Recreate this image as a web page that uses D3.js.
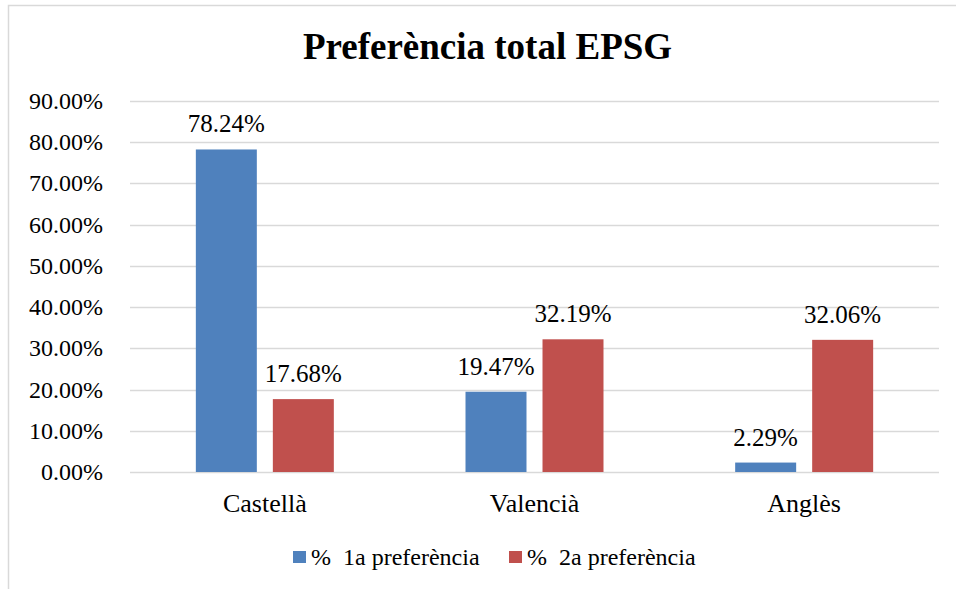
<!DOCTYPE html>
<html>
<head>
<meta charset="utf-8">
<script src="https://cdn.jsdelivr.net/npm/d3@7"></script>
<style>
  body { margin: 0; background: #fff; }
</style>
</head>
<body>
<div id="chart"></div>
<script>
// data
var categories = ['Castellà', 'Valencià', 'Anglès'];
var seriesNames = ['% 1a preferència', '% 2a preferència'];
var first = [78.24, 19.47, 2.29];
var second = [17.68, 32.19, 32.06];
var yTicks = [0, 10, 20, 30, 40, 50, 60, 70, 80, 90];
var colors = ['#4F81BD', '#C0504D'];

var width = 956,
  height = 589;
var font = 'Liberation Serif';

var svg = d3.select('#chart').append('svg')
    .attr('width', width)
    .attr('height', height);

// chart border (runs off the right and bottom of the picture)
svg.append('rect')
    .attr('x', 8.5).attr('y', 5.5)
    .attr('width', 1000).attr('height', 700)
    .attr('fill', 'none')
    .attr('stroke', '#d9d9d9')
    .attr('stroke-width', 1.5);

var plotLeft = 130, plotRight = 939, plotTop = 101, plotBottom = 472;

var y = d3.scaleLinear()
    .domain([0, 90])
    .range([plotBottom, plotTop]);

var x0 = d3.scaleBand()
    .domain(categories)
    .range([plotLeft, plotRight]);

var x1 = d3.scaleBand()
    .domain([0, 1])
    .range([0, x0.bandwidth()])
    .paddingInner(0.208)
    .paddingOuter(0.855);

// gridlines
svg.append('g')
  .selectAll('line')
  .data(yTicks)
  .enter().append('line')
  .attr('x1', plotLeft).attr('x2', plotRight)
  .attr('y1', function(d) { return Math.round(y(d)) + 0.5; })
  .attr('y2', function(d) { return Math.round(y(d)) + 0.5; })
  .attr('stroke', '#d9d9d9')
  .attr('stroke-width', 1.5);

// y labels
svg.append('g')
  .selectAll('text')
  .data(yTicks)
  .enter().append('text')
  .attr('x', 103)
  .attr('y', function(d) { return y(d) + 8; })
  .attr('text-anchor', 'end')
  .attr('font-family', font)
  .attr('font-size', 24)
  .text(function(d) { return d.toFixed(2) + '%'; });

var rows = categories.map(function(c, i) {
  return { cat: c, vals: [first[i], second[i]] };
});

var groups = svg.append('g')
  .selectAll('g')
  .data(rows)
  .enter().append('g')
  .attr('transform', function(d) { return 'translate(' + x0(d.cat) + ',0)'; });

groups.selectAll('rect')
  .data(function(d) { return d.vals; })
  .enter().append('rect')
  .attr('x', function(d, i) { return x1(i); })
  .attr('y', function(d) { return y(d); })
  .attr('width', x1.bandwidth())
  .attr('height', function(d) { return y(0) - y(d); })
  .attr('fill', function(d, i) { return colors[i]; });

groups.selectAll('text')
  .data(function(d) { return d.vals; })
  .enter().append('text')
  .attr('x', function(d, i) { return x1(i) + x1.bandwidth() / 2; })
  .attr('y', function(d) { return y(d) - 17; })
  .attr('text-anchor', 'middle')
  .attr('font-family', font)
  .attr('font-size', 25)
  .text(function(d) { return d.toFixed(2) + '%'; });

// category labels
svg.append('g')
  .selectAll('text')
  .data(categories)
  .enter().append('text')
  .attr('x', function(d) { return x0(d) + x0.bandwidth() / 2; })
  .attr('y', 512)
  .attr('text-anchor', 'middle')
  .attr('font-family', font)
  .attr('font-size', 26)
  .text(function(d) { return d; });

// title
svg.append('text')
  .attr('x', 487.5)
  .attr('y', 59)
  .attr('text-anchor', 'middle')
  .attr('font-family', font)
  .attr('font-size', 37)
  .attr('font-weight', 'bold')
  .text('Preferència total EPSG');

// legend
var legendX = [293, 509];
var legend = svg.append('g')
  .selectAll('g')
  .data(seriesNames)
  .enter().append('g')
  .attr('transform', function(d, i) { return 'translate(' + legendX[i] + ',551)'; });

legend.append('rect')
  .attr('width', 13).attr('height', 12)
  .attr('fill', function(d, i) { return colors[i]; });

legend.append('text')
  .attr('x', 18)
  .attr('y', 14)
  .attr('font-family', font)
  .attr('font-size', 24)
  .style('white-space', 'pre')
  .text(function(d) { return d.replace('% ', '%  '); });
</script>
</body>
</html>
